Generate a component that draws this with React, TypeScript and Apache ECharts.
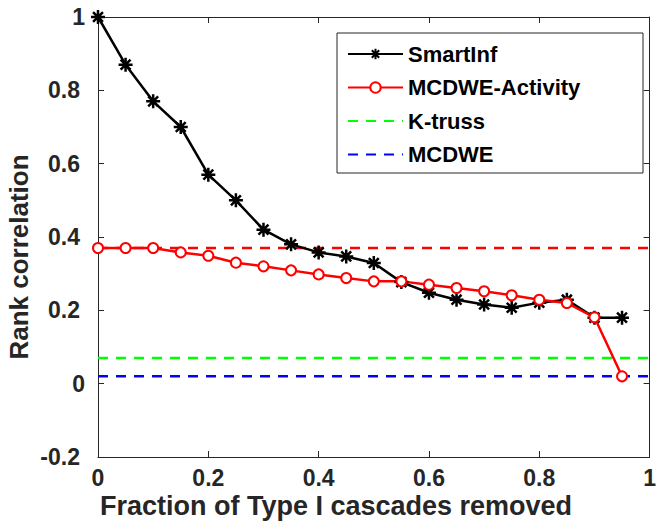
import React, { useEffect, useRef } from "react";
import * as echarts from "echarts";

const xValues = [0, 0.05, 0.1, 0.15, 0.2, 0.25, 0.3, 0.35, 0.4, 0.45, 0.5, 0.55, 0.6, 0.65, 0.7, 0.75, 0.8, 0.85, 0.9, 0.95];
const smartInf = [1.0, 0.87, 0.77, 0.7, 0.57, 0.5, 0.42, 0.38, 0.358, 0.347, 0.329, 0.277, 0.248, 0.229, 0.216, 0.207, 0.221, 0.229, 0.18, 0.18];
const mcdweActivity = [0.37, 0.37, 0.37, 0.358, 0.349, 0.33, 0.32, 0.309, 0.298, 0.288, 0.279, 0.279, 0.27, 0.261, 0.252, 0.241, 0.229, 0.22, 0.181, 0.02];
const lineEnds = [0, 1];
const kTrussLevel = 0.07;
const mcdweLevel = 0.02;
const activityBaseline = 0.37;
const seriesNames = ["SmartInf", "MCDWE-Activity", "K-truss", "MCDWE"];
const xAxisTitle = "Fraction of Type I cascades removed";
const yAxisTitle = "Rank correlation";

const FONT = "'Liberation Sans', Arial, Helvetica, sans-serif";
const AXIS_COLOR = "#262626";
const STAR = "path://M0 -10 L0 10 M-10 0 L10 0 M-7.07 -7.07 L7.07 7.07 M-7.07 7.07 L7.07 -7.07";

export default function App() {
  const ref = useRef<HTMLDivElement>(null);

  useEffect(() => {
    if (!ref.current) return;
    const chart = echarts.init(ref.current, undefined, { renderer: "svg" });

    const pairs = (ys: number[]) => xValues.map((x, i) => [x, ys[i]]);
    const flat = (v: number) => lineEnds.map((x) => [x, v]);

    const axisLine = { show: true, onZero: false, lineStyle: { color: AXIS_COLOR, width: 1 } };
    const axisTick = { show: true, inside: true, length: 6, lineStyle: { color: AXIS_COLOR, width: 1 } };
    const labelFont = { fontFamily: FONT, fontWeight: "bold" as const, fontSize: 23, color: AXIS_COLOR };

    chart.setOption({
      animation: false,
      backgroundColor: "#ffffff",
      grid: { left: 98, right: 1, top: 17, bottom: 67, containLabel: false },
      xAxis: [
        {
          type: "value", min: 0, max: 1, interval: 0.2, position: "bottom",
          axisLine, axisTick, splitLine: { show: false },
          axisLabel: { ...labelFont, margin: 9 },
        },
        {
          type: "value", min: 0, max: 1, interval: 0.2, position: "top",
          axisLine, axisTick, splitLine: { show: false }, axisLabel: { show: false },
        },
      ],
      yAxis: [
        {
          type: "value", min: -0.2, max: 1, interval: 0.2, position: "left",
          axisLine, axisTick, splitLine: { show: false },
          axisLabel: {
            ...labelFont,
            margin: 13,
            formatter: (v: number) => {
              const r = Math.round(v * 10) / 10;
              const s = String(r);
              return Number.isInteger(r) ? s : `{d|${s}}`;
            },
            rich: { d: { ...labelFont, padding: [0, 5, 0, 0] } },
          },
        },
        {
          type: "value", min: -0.2, max: 1, interval: 0.2, position: "right",
          axisLine, axisTick, splitLine: { show: false }, axisLabel: { show: false },
        },
      ],
      legend: {
        orient: "vertical",
        left: 342,
        top: 38,
        padding: 5,
        z: 10,
        itemWidth: 55,
        itemHeight: 13,
        itemGap: 11.5,
        data: [
          { name: seriesNames[0] },
          { name: seriesNames[1] },
          { name: seriesNames[2], itemStyle: { opacity: 0 } },
          { name: seriesNames[3], itemStyle: { opacity: 0 } },
        ],
        textStyle: { fontFamily: FONT, fontWeight: "bold", fontSize: 22, color: "#000000", lineHeight: 22 },
      },
      graphic: [
        {
          type: "rect", z: 5,
          shape: { x: 337, y: 33, width: 306, height: 140 },
          style: { fill: "#ffffff", stroke: AXIS_COLOR, lineWidth: 1 },
        },
        {
          type: "text", x: 336, y: 506,
          style: {
            text: xAxisTitle, fontFamily: FONT, fontWeight: "bold", fontSize: 27,
            fill: AXIS_COLOR, align: "center", verticalAlign: "middle",
          },
        },
        {
          type: "text", x: 19, y: 257, rotation: Math.PI / 2,
          style: {
            text: yAxisTitle, fontFamily: FONT, fontWeight: "bold", fontSize: 26,
            fill: AXIS_COLOR, align: "center", verticalAlign: "middle",
          },
        },
      ],
      series: [
        {
          name: "Baseline", type: "line", data: flat(activityBaseline), symbol: "none",
          lineStyle: { color: "#ff0000", width: 2.5, type: [10, 8] }, itemStyle: { color: "#ff0000" },
        },
        {
          name: seriesNames[2], type: "line", data: flat(kTrussLevel), symbol: "none",
          lineStyle: { color: "#00ff00", width: 2.5, type: [10, 8] }, itemStyle: { color: "#00ff00" },
        },
        {
          name: seriesNames[3], type: "line", data: flat(mcdweLevel), symbol: "none",
          lineStyle: { color: "#0000ff", width: 2.5, type: [10, 8] }, itemStyle: { color: "#0000ff" },
        },
        {
          name: seriesNames[0], type: "line", data: pairs(smartInf),
          symbol: STAR, symbolSize: 14,
          lineStyle: { color: "#000000", width: 2.5 },
          itemStyle: { color: "#000000", borderColor: "#000000", borderWidth: 2.5 },
        },
        {
          name: seriesNames[1], type: "line", data: pairs(mcdweActivity),
          symbol: "emptyCircle", symbolSize: 10,
          lineStyle: { color: "#ff0000", width: 2.5 },
          itemStyle: { color: "#ff0000", borderColor: "#ff0000", borderWidth: 2.2 },
        },
      ],
    });

    return () => chart.dispose();
  }, []);

  return (
    <div
      ref={ref}
      style={{ position: "fixed", left: 0, top: 0, width: 659, height: 524, background: "#fff" }}
    />
  );
}
